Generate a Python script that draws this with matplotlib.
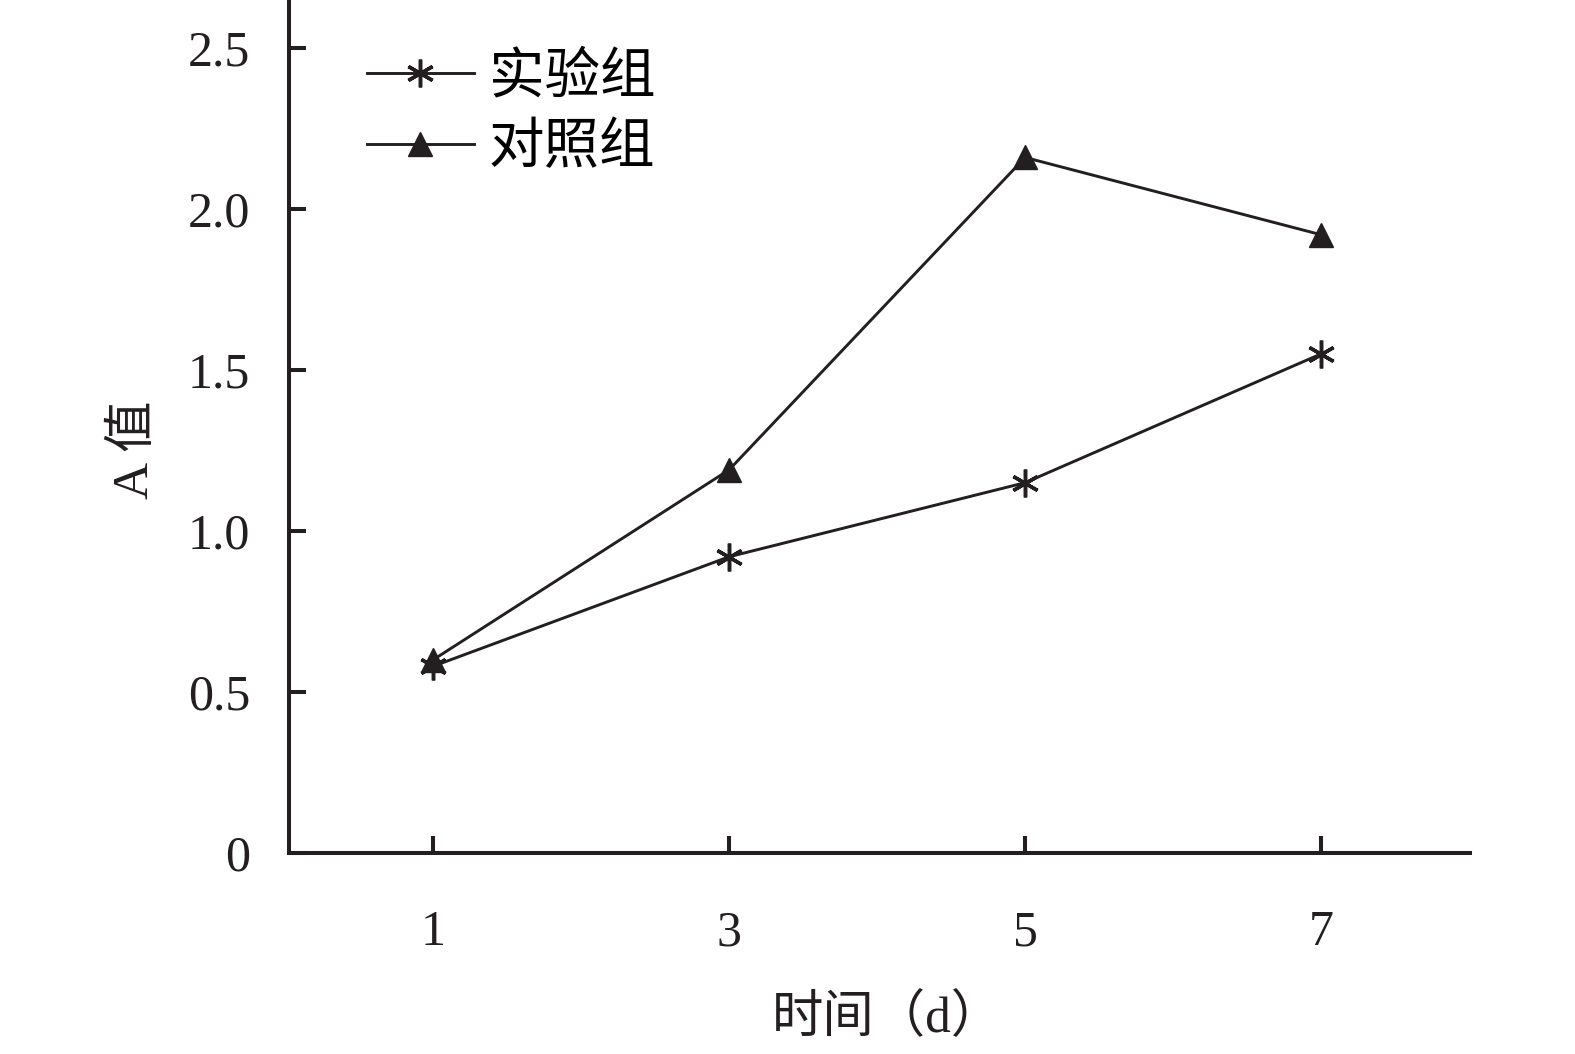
import matplotlib.pyplot as plt

plt.rcParams['font.family'] = ['Liberation Serif', 'Noto Sans CJK SC']

# data
days = ['1', '3', '5', '7']
shiyan = [0.58, 0.92, 1.15, 1.55]   # 实验组
duizhao = [0.60, 1.19, 2.16, 1.92]  # 对照组
yticks = [0, 0.5, 1.0, 1.5, 2.0, 2.5]
ytick_labels = ['0', '0.5', '1.0', '1.5', '2.0', '2.5']

fig = plt.figure(figsize=(15.75, 10.54), dpi=100)
ax = fig.add_axes([0.1835, 0.1907, 0.9333 - 0.1835, 1 - 0.1907])

x = range(len(days))
ax.plot(x, shiyan, color='#231f20', lw=2.1, marker=(6, 2, 0), ms=20, mew=2.5,
        label='实验组')
ax.plot(x, duizhao, color='#231f20', lw=2.1, marker='^', ms=17,
        label='对照组')

ax.set_xlim(-0.487, 3.503)
ax.set_ylim(0, 2.649)
ax.set_xticks(list(x))
ax.set_xticklabels(days)
ax.set_yticks(yticks)
ax.set_yticklabels(ytick_labels)

for s in ['top', 'right']:
    ax.spines[s].set_visible(False)
for s in ['left', 'bottom']:
    ax.spines[s].set_linewidth(2.9)
    ax.spines[s].set_color('#231f20')

ax.tick_params(axis='both', direction='in', length=12, width=2.9,
               colors='#231f20', labelsize=36)
ax.tick_params(axis='x', pad=41)
ax.tick_params(axis='y', pad=28)

ax.set_xlabel('时间（d）', fontsize=37, color='#231f20')
ax.xaxis.set_label_coords(0.507, -0.166)
ax.set_ylabel('A 值', fontsize=37, color='#231f20')
ax.yaxis.set_label_coords(-0.11, 0.4725)

leg = ax.legend(loc='upper left', bbox_to_anchor=(0.047, 0.965), frameon=False,
                fontsize=40, handlelength=1.93, handletextpad=0.27,
                labelspacing=0.35, borderaxespad=0)

fig.savefig('out.png', dpi=100)
